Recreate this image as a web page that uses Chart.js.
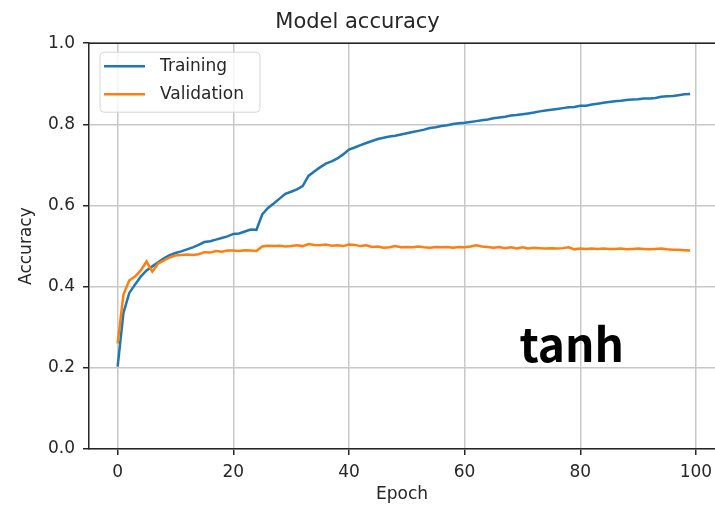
<!DOCTYPE html>
<html>
<head>
<meta charset="utf-8">
<script src="https://cdn.jsdelivr.net/npm/chart.js@4.4.1/dist/chart.umd.min.js"></script>
<style>
html,body{margin:0;padding:0;background:#fff;overflow:hidden}
canvas{display:block}
</style>
</head>
<body>
<canvas id="chart" width="715" height="505"></canvas>
<script>

// epoch index 0..99
const epochs = Array.from({length:100},(_,i)=>i)

const training = [
0.203,0.335,0.384,0.405,0.425,0.440,0.450,0.460,0.470,0.478,
0.483,0.487,0.492,0.497,0.503,0.510,0.512,0.516,0.520,0.524,
0.530,0.531,0.536,0.541,0.540,0.578,0.594,0.605,0.617,0.629,
0.634,0.640,0.648,0.673,0.684,0.694,0.703,0.709,0.716,0.726,
0.738,0.743,0.749,0.754,0.759,0.764,0.767,0.770,0.772,0.775,
0.778,0.781,0.784,0.787,0.791,0.793,0.796,0.798,0.801,0.803,
0.804,0.806,0.808,0.810,0.812,0.815,0.817,0.819,0.822,0.823,
0.825,0.827,0.829,0.832,0.834,0.836,0.838,0.840,0.842,0.843,
0.846,0.846,0.849,0.851,0.853,0.855,0.857,0.858,0.860,0.861,
0.862,0.864,0.864,0.865,0.868,0.869,0.870,0.872,0.874,0.875
]

const validation = [
0.260,0.380,0.415,0.425,0.440,0.462,0.437,0.457,0.465,0.472,
0.477,0.478,0.479,0.478,0.480,0.485,0.484,0.488,0.486,0.489,
0.489,0.488,0.490,0.489,0.488,0.499,0.501,0.500,0.501,0.499,
0.500,0.502,0.500,0.505,0.503,0.502,0.504,0.501,0.502,0.500,
0.504,0.503,0.500,0.502,0.498,0.499,0.496,0.497,0.500,0.497,
0.498,0.497,0.499,0.497,0.496,0.498,0.497,0.498,0.496,0.498,
0.497,0.499,0.502,0.499,0.498,0.496,0.498,0.495,0.497,0.494,
0.497,0.494,0.496,0.495,0.494,0.495,0.494,0.495,0.497,0.492,
0.494,0.493,0.494,0.493,0.494,0.493,0.493,0.494,0.492,0.493,
0.494,0.493,0.492,0.493,0.494,0.492,0.491,0.491,0.490,0.489
]

const seriesNames = ["Training","Validation"]
const xTicks = [0,20,40,60,80,100]
const yTicks = [0,0.2,0.4,0.6,0.8,1.0]
const noteText = "tanh"

const FONT = "'DejaVu Sans', sans-serif"
const TEXT = "#262626"
const COLORS = ["#1f77b4","#ff7f0e"]

// top spine, boxed legend and the "tanh" note
const extras = {
id:"extras",
afterDraw(chart){
const ctx = chart.ctx
const a = chart.chartArea
ctx.save()

ctx.strokeStyle = "#262626"
ctx.lineWidth = 1.5
ctx.beginPath()
ctx.moveTo(a.left, a.top)
ctx.lineTo(a.right, a.top)
ctx.stroke()

const bx = a.left + 11, by = a.top + 9
ctx.beginPath()
ctx.roundRect(bx, by, 160, 60, 4)
ctx.fillStyle = "rgba(255,255,255,0.8)"
ctx.fill()
ctx.strokeStyle = "#d6d6d6"
ctx.lineWidth = 1
ctx.stroke()

ctx.font = "17px " + FONT
ctx.textBaseline = "middle"
seriesNames.forEach((name,i)=>{
const y = by + 14 + i*28
ctx.strokeStyle = COLORS[i]
ctx.lineWidth = 2.5
ctx.beginPath()
ctx.moveTo(bx + 4, y)
ctx.lineTo(bx + 45, y)
ctx.stroke()
ctx.fillStyle = TEXT
ctx.fillText(name, bx + 60, y)
})

ctx.font = "bold 46px 'Noto Sans CJK JP', 'Noto Sans', sans-serif"
ctx.fillStyle = "#000"
ctx.textBaseline = "alphabetic"
ctx.fillText(noteText, chart.scales.x.getPixelForValue(69.5), chart.scales.y.getPixelForValue(0.214))

ctx.restore()
}
}

new Chart(document.getElementById("chart"),{
type:"line",
data:{
labels:epochs,
datasets:[
{label:seriesNames[0],data:training,borderColor:COLORS[0],borderWidth:2.5,pointRadius:0,tension:0,order:1},
{label:seriesNames[1],data:validation,borderColor:COLORS[1],borderWidth:2.5,pointRadius:0,tension:0,order:0}
]
},
options:{
responsive:false,
animation:false,
devicePixelRatio:1,
layout:{padding:0},
plugins:{
legend:{display:false},
tooltip:{enabled:false},
title:{display:true,text:"Model accuracy",color:TEXT,
font:{family:FONT,size:21,weight:"normal"},padding:{top:10,bottom:8}}
},
scales:{
x:{
type:"linear",min:-4.95,max:103.3,
afterBuildTicks:s=>{s.ticks = xTicks.map(v=>({value:v}))},
// plot runs off the right edge like the original figure
afterFit:s=>{s.height = 56; s.paddingRight = 0; s.paddingLeft = 0},
grid:{color:"#c8c8c8",lineWidth:1.5,tickColor:TEXT,tickLength:6,tickWidth:1.5},
border:{color:TEXT,width:1.5},
ticks:{color:TEXT,font:{family:FONT,size:17},padding:7,maxRotation:0,callback:v=>String(v)},
title:{display:true,text:"Epoch",color:TEXT,font:{family:FONT,size:17},padding:0}
},
y:{
type:"linear",min:0,max:1,
afterBuildTicks:s=>{s.ticks = yTicks.map(v=>({value:v}))},
afterFit:s=>{s.width = 89},
grid:{color:"#c8c8c8",lineWidth:1.5,tickColor:TEXT,tickLength:6,tickWidth:1.5},
border:{color:TEXT,width:1.5},
ticks:{color:TEXT,font:{family:FONT,size:17},padding:8,callback:v=>v.toFixed(1)},
title:{display:true,text:"Accuracy",color:TEXT,font:{family:FONT,size:17},padding:16}
}
}
},
plugins:[extras]
})

</script>
</body>
</html>
